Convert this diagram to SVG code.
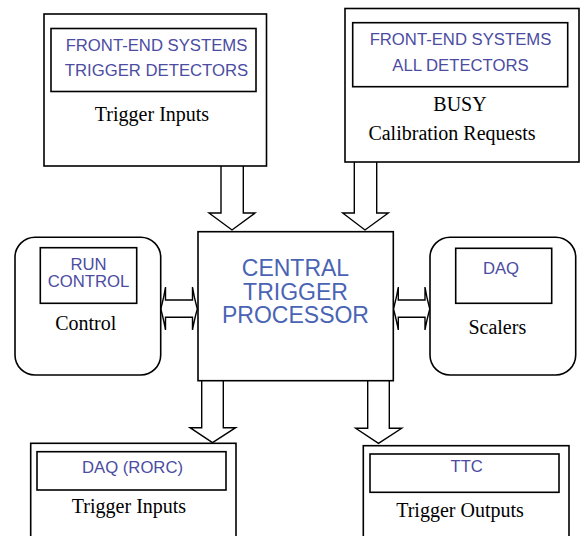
<svg xmlns="http://www.w3.org/2000/svg" width="580" height="536" viewBox="0 0 580 536">
<style>
.box{fill:#fff;stroke:#000;stroke-width:1.6}
.inner{fill:none;stroke:#000;stroke-width:1.6}
.arr{fill:#fff;stroke:#000;stroke-width:1.4;stroke-linejoin:miter}
.sm{font-family:"Liberation Sans",Arial,sans-serif;font-size:16.7px;fill:#4b4ca2;text-anchor:middle}
.big{font-family:"Liberation Sans",Arial,sans-serif;font-size:23px;fill:#4a64b4;text-anchor:middle}
.tm{font-family:"Liberation Serif","Times New Roman",serif;font-size:20px;fill:#000;text-anchor:middle}
</style>
<rect width="580" height="536" fill="#fff"/>
<g id="connectors">
<path class="arr" d="M221,166 V213 H209 L232,230 L255,213 H243.3 V166"/>
<path class="arr" d="M354.3,162 V213 H342.7 L365,230 L388.3,213 H376.7 V162"/>
<path class="arr" d="M201.7,380.7 V427.7 H190 L212.5,442.7 L235.7,427.7 H223.3 V380.7"/>
<path class="arr" d="M367.7,380.7 V428.3 H355.7 L378.5,443.3 L401.7,428.3 H389.3 V380.7"/>
<path class="arr" d="M160.8,309 Q164,297 165.5,287 V300 H192.5 V287 Q194,297 197.3,309 Q194,321 192.5,330 V317.3 H165.5 V330 Q164,321 160.8,309 Z"/>
<path class="arr" d="M393.5,309 Q396.7,297 398.3,287 V300 H425 V287 Q426.5,297 429.8,309 Q426.5,321 425,330 V317.3 H398.3 V330 Q396.7,321 393.5,309 Z"/>
</g>
<g id="fe-trigger">
<rect class="box" x="44" y="14" width="222.5" height="152"/>
<rect class="inner" x="51" y="28.5" width="205" height="63"/>
<text class="sm" x="156.5" y="51">FRONT-END SYSTEMS</text>
<text class="sm" x="156.5" y="76">TRIGGER DETECTORS</text>
<text class="tm" x="152" y="121">Trigger Inputs</text>
</g>
<g id="fe-all">
<rect class="box" x="345" y="8.5" width="234" height="153.5"/>
<rect class="inner" x="352.7" y="22.7" width="215" height="64"/>
<text class="sm" x="460.5" y="44.5">FRONT-END SYSTEMS</text>
<text class="sm" x="460.5" y="70.5">ALL DETECTORS</text>
<text class="tm" x="460" y="111">BUSY</text>
<text class="tm" x="452" y="140">Calibration Requests</text>
</g>
<g id="ctp">
<rect class="box" x="198" y="231.7" width="195.3" height="149"/>
<text class="big" x="295.5" y="276">CENTRAL</text>
<text class="big" x="295.5" y="299.5">TRIGGER</text>
<text class="big" x="295.5" y="322.7">PROCESSOR</text>
</g>
<g id="run-control">
<rect class="box" x="15" y="237.3" width="145.7" height="137.7" rx="20" ry="20"/>
<rect class="inner" x="40.3" y="247.7" width="96.4" height="55.6"/>
<text class="sm" x="88.5" y="270">RUN</text>
<text class="sm" x="88.5" y="286.7">CONTROL</text>
<text class="tm" x="85.7" y="329.5">Control</text>
</g>
<g id="daq-scalers">
<rect class="box" x="430" y="237.3" width="145.7" height="137.7" rx="20" ry="20"/>
<rect class="inner" x="455.7" y="248.3" width="96" height="55"/>
<text class="sm" x="501" y="274">DAQ</text>
<text class="tm" x="497.3" y="334">Scalers</text>
</g>
<g id="daq-rorc">
<rect class="box" x="30.7" y="443.3" width="205.3" height="100"/>
<rect class="inner" x="37" y="451.7" width="189" height="38.3"/>
<text class="sm" x="132.5" y="473.3">DAQ (RORC)</text>
<text class="tm" x="129" y="512.7">Trigger Inputs</text>
</g>
<g id="ttc">
<rect class="box" x="363.3" y="445.7" width="205.7" height="100"/>
<rect class="inner" x="370" y="454" width="189" height="38.3"/>
<text class="sm" x="466.7" y="472.3">TTC</text>
<text class="tm" x="460" y="516.7">Trigger Outputs</text>
</g>
</svg>
